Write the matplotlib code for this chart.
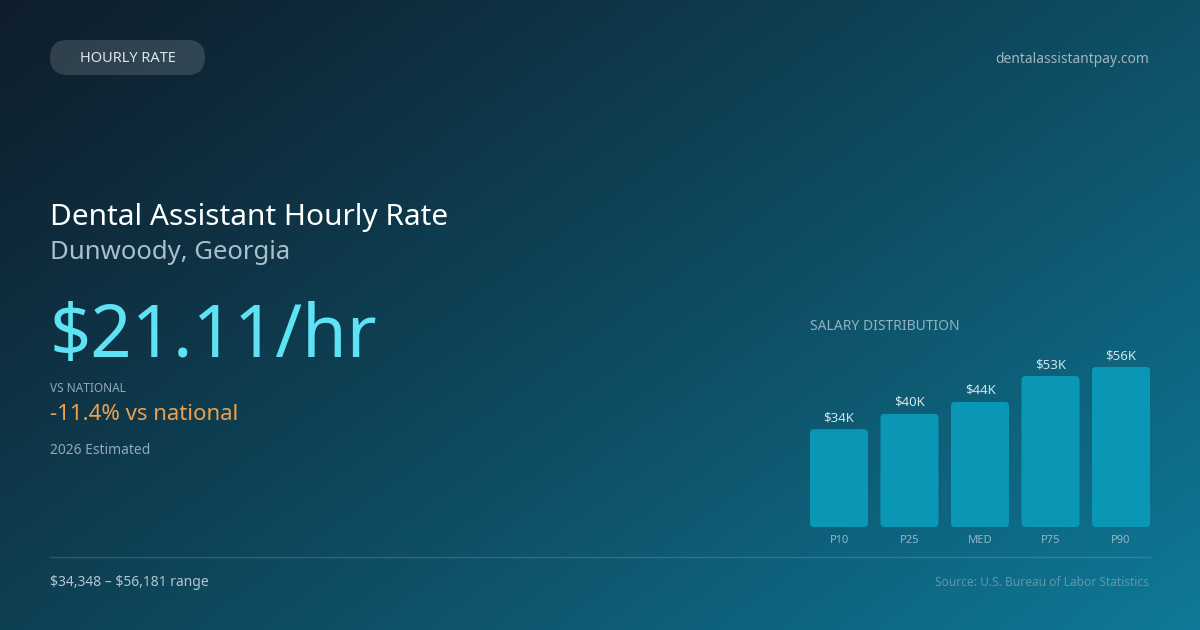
import numpy as np
import matplotlib
matplotlib.use("Agg")
import matplotlib.pyplot as plt
from matplotlib.patches import FancyBboxPatch
from matplotlib.colors import to_rgb

# ---- data ----
categories = ["P10", "P25", "MED", "P75", "P90"]
salaries = [34348, 39700, 43909, 53000, 56181]
value_labels = ["$34K", "$40K", "$44K", "$53K", "$56K"]
title = "Dental Assistant Hourly Rate"
location = "Dunwoody, Georgia"
hourly = "$21.11/hr"
vs_national = "-11.4% vs national"
range_text = "$34,348 – $56,181 range"

W, H = 1200, 630
fig = plt.figure(figsize=(W / 100, H / 100), dpi=100)
plt.rcParams['font.family'] = ['Noto Sans', 'DejaVu Sans']

# background gradient
bg = fig.add_axes([0, 0, 1, 1])
bg.set_axis_off()
c0 = np.array(to_rgb("#0e1e2c"))
c1 = np.array(to_rgb("#0e7a98"))
yy, xx = np.mgrid[0:H, 0:W]
t = (xx / W * 0.58 + yy / H * 0.42)
t = np.clip(t, 0, 1) ** 1.15
img = c0[None, None, :] * (1 - t[..., None]) + c1[None, None, :] * t[..., None]
bg.imshow(img, extent=[0, W, H, 0], aspect='auto')
bg.set_xlim(0, W)
bg.set_ylim(H, 0)

def T(x, y, s, **kw):
    bg.text(x, y, s, parse_math=False, **kw)

# pill
pill = FancyBboxPatch((50, 40), 155, 35,
                      boxstyle="round,pad=0,rounding_size=17.5",
                      mutation_aspect=1, fc=(1, 1, 1, 0.14), ec="none")
bg.add_patch(pill)
T(127.5, 58, "HOURLY RATE", fontsize=10.5, color="#dbe6ec", ha="center", va="center")

T(1149, 63, "dentalassistantpay.com", fontsize=10, color="#9fb5c0", ha="right", va="baseline")

T(50, 225, title, fontsize=21.5, color="#ffffff", ha="left", va="baseline")
T(50, 259, location, fontsize=18.5, color="#a9bfca", ha="left", va="baseline")
T(50, 357, hourly, fontsize=52, color="#5ee3f5", ha="left", va="baseline")
T(50, 392, "VS NATIONAL", fontsize=8.5, color="#8fa9b5", ha="left", va="baseline")
T(50, 420, vs_national, fontsize=16, color="#f0a04b", ha="left", va="baseline")
T(50, 454, "2026 Estimated", fontsize=10, color="#8fa9b5", ha="left", va="baseline")

T(50, 586, range_text, fontsize=10, color="#b3c6cf", ha="left", va="baseline")
T(1149, 586, "Source: U.S. Bureau of Labor Statistics", fontsize=8.6, color="#5f97ab",
  ha="right", va="baseline")
T(810, 330, "SALARY DISTRIBUTION", fontsize=10, color="#8fb3c2", ha="left", va="baseline")

bg.plot([50, 1150], [556.5, 556.5], color=(1, 1, 1, 0.15), lw=1)

# bar chart axes
x0, x1, ybot, hmax = 810, 1150, 527, 160
ax = fig.add_axes([x0 / W, (H - ybot) / H, (x1 - x0) / W, hmax / H])
ax.set_facecolor("none")
ax.set_axis_off()
bw = 0.823
n = len(categories)
ax.set_xlim(-bw / 2, n - 1 + bw / 2)
ymax = max(salaries)
ax.set_ylim(0, ymax)
px_x = (x1 - x0) / (n - 1 + bw)
px_y = hmax / ymax
aspect = (1 / px_y) / (1 / px_x)
r = 4 / px_x
for i, (v, lab, cat) in enumerate(zip(salaries, value_labels, categories)):
    p = FancyBboxPatch((i - bw / 2, 0), bw, v,
                       boxstyle=f"round,pad=0,rounding_size={r}",
                       mutation_aspect=aspect, fc="#0a97b5", ec="none")
    ax.add_patch(p)
    ax.annotate(lab, (i, v), xytext=(0, 8), textcoords="offset pixels",
                ha="center", va="baseline", fontsize=9.5, color="#d2e3ea",
                annotation_clip=False)
    ax.annotate(cat, (i, 0), xytext=(0, -16), textcoords="offset pixels",
                ha="center", va="baseline", fontsize=8, color="#8fb8c8",
                annotation_clip=False)

fig.savefig("out.png", dpi=100)
